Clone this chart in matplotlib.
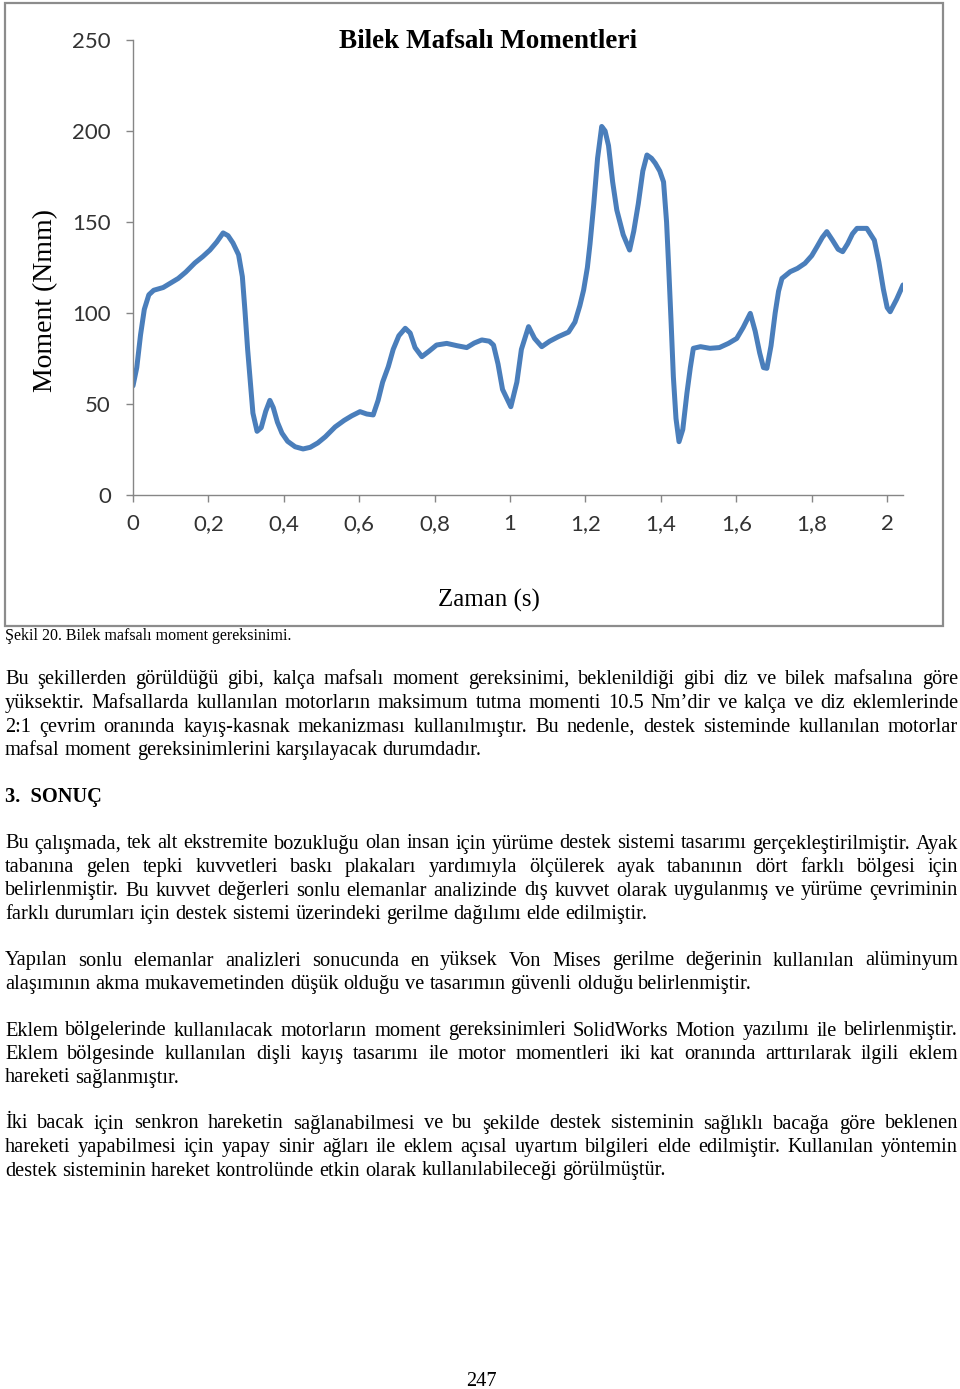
import matplotlib
matplotlib.use('Agg')
import matplotlib.pyplot as plt
from matplotlib.patches import Rectangle

W, H = 960, 1389

# wrist joint moment
time_s = [0.000, 0.010, 0.020, 0.030, 0.042, 0.055, 0.080, 0.100, 0.120, 0.140,
          0.164, 0.185, 0.204, 0.222, 0.239, 0.252, 0.265, 0.280, 0.290, 0.297,
          0.304, 0.310, 0.318, 0.329, 0.340, 0.352, 0.363, 0.372, 0.383, 0.395,
          0.410, 0.430, 0.451, 0.470, 0.490, 0.510, 0.536, 0.560, 0.580, 0.602,
          0.620, 0.637, 0.650, 0.662, 0.677, 0.690, 0.705, 0.722, 0.735, 0.748,
          0.766, 0.785, 0.805, 0.832, 0.860, 0.885, 0.905, 0.925, 0.945, 0.956,
          0.968, 0.980, 1.002, 1.018, 1.030, 1.049, 1.065, 1.084, 1.105, 1.128,
          1.155, 1.172, 1.185, 1.195, 1.205, 1.212, 1.222, 1.232, 1.243, 1.252,
          1.261, 1.272, 1.283, 1.300, 1.317, 1.328, 1.340, 1.352, 1.363, 1.375,
          1.385, 1.397, 1.407, 1.415, 1.420, 1.427, 1.433, 1.440, 1.448, 1.458,
          1.469, 1.478, 1.486, 1.505, 1.530, 1.555, 1.579, 1.601, 1.618, 1.637,
          1.650, 1.662, 1.672, 1.681, 1.692, 1.703, 1.712, 1.721, 1.743, 1.762,
          1.782, 1.800, 1.814, 1.828, 1.840, 1.855, 1.870, 1.882, 1.895, 1.908,
          1.920, 1.946, 1.966, 1.978, 1.990, 2.000, 2.008, 2.025, 2.042]
moment_nmm = [60, 70, 88, 102, 110, 112.5, 114, 116.5, 119, 122.5,
              127.5, 131, 134.6, 139, 144, 142.5, 138.5, 132, 120, 101,
              80, 65, 45, 35, 37, 46, 52, 48, 40, 34,
              29.5, 26.5, 25.3, 26.2, 28.6, 32, 37.4, 41, 43.5, 45.8,
              44.5, 44, 52, 62, 70.5, 80, 87.5, 91.6, 89, 81,
              76, 79, 82.4, 83.3, 82, 81, 83.5, 85.2, 84.5, 82.4,
              72, 58, 48.5, 62, 80, 92.5, 86, 81.5, 84.5, 87,
              89.5, 95, 104, 112.6, 125, 138, 160, 185, 202.5, 200,
              192, 172, 156.6, 143, 134.6, 145, 160, 178, 186.8, 185,
              182.3, 178, 172, 150, 128, 95, 65, 42, 29.3, 36,
              56, 70, 80.6, 81.5, 80.6, 81, 83.3, 86, 92, 99.8,
              90, 78, 70, 69.6, 82, 100, 112, 119, 122.7, 124.5,
              127.3, 131.5, 136.4, 141.5, 144.7, 140, 135, 133.7, 138, 143.5,
              146.5, 146.5, 140, 128, 113, 103, 100.7, 107.5, 115.4]

x_ticks = [0, 0.2, 0.4, 0.6, 0.8, 1.0, 1.2, 1.4, 1.6, 1.8, 2.0]
x_tick_labels = ['0', '0,2', '0,4', '0,6', '0,8', '1', '1,2', '1,4', '1,6', '1,8', '2']
y_ticks = [0, 50, 100, 150, 200, 250]

title = 'Bilek Mafsalı Momentleri'
x_label = 'Zaman (s)'
y_label = 'Moment (Nmm)'
caption = 'Şekil 20. Bilek mafsalı moment gereksinimi.'

para1 = ['Bu şekillerden görüldüğü gibi, kalça mafsalı moment gereksinimi, beklenildiği gibi diz ve bilek mafsalına göre',
         'yüksektir. Mafsallarda kullanılan motorların maksimum tutma momenti 10.5 Nm’dir ve kalça ve diz eklemlerinde',
         '2:1 çevrim oranında kayış-kasnak mekanizması kullanılmıştır. Bu nedenle, destek sisteminde kullanılan motorlar',
         'mafsal moment gereksinimlerini karşılayacak durumdadır.']
heading = '3.  SONUÇ'
para2 = ['Bu çalışmada, tek alt ekstremite bozukluğu olan insan için yürüme destek sistemi tasarımı gerçekleştirilmiştir. Ayak',
         'tabanına gelen tepki kuvvetleri baskı plakaları yardımıyla ölçülerek ayak tabanının dört farklı bölgesi için',
         'belirlenmiştir. Bu kuvvet değerleri sonlu elemanlar analizinde dış kuvvet olarak uygulanmış ve yürüme çevriminin',
         'farklı durumları için destek sistemi üzerindeki gerilme dağılımı elde edilmiştir.']
para3 = ['Yapılan sonlu elemanlar analizleri sonucunda en yüksek Von Mises gerilme değerinin kullanılan alüminyum',
         'alaşımının akma mukavemetinden düşük olduğu ve tasarımın güvenli olduğu belirlenmiştir.']
para4 = ['Eklem bölgelerinde kullanılacak motorların moment gereksinimleri SolidWorks Motion yazılımı ile belirlenmiştir.',
         'Eklem bölgesinde kullanılan dişli kayış tasarımı ile motor momentleri iki kat oranında arttırılarak ilgili eklem',
         'hareketi sağlanmıştır.']
para5 = ['İki bacak için senkron hareketin sağlanabilmesi ve bu şekilde destek sisteminin sağlıklı bacağa göre beklenen',
         'hareketi yapabilmesi için yapay sinir ağları ile eklem açısal uyartım bilgileri elde edilmiştir. Kullanılan yöntemin',
         'destek sisteminin hareket kontrolünde etkin olarak kullanılabileceği görülmüştür.']
page_no = '247'

serif = 'Liberation Serif'

fig = plt.figure(figsize=(W / 100, H / 100), dpi=100)
fig.patch.set_facecolor('white')


def fx(px):
    return px / W


def fy(py):
    return 1 - py / H


# chart frame
fig.patches.append(Rectangle((fx(5), fy(626)), fx(938), 623 / H, transform=fig.transFigure,
                             fill=False, edgecolor='#8c8c8c', lw=1.6))

ax = fig.add_axes([fx(133), fy(495), fx(903) - fx(133), 455 / H])
ax.plot(time_s, moment_nmm, color='#4a7ebb', lw=3.6, solid_joinstyle='round',
        solid_capstyle='round')
ax.set_xlim(0, 2.042)
ax.set_ylim(0, 250)
ax.set_xticks(x_ticks)
ax.set_xticklabels(x_tick_labels)
ax.set_yticks(y_ticks)
for s in ['top', 'right']:
    ax.spines[s].set_visible(False)
for s in ['left', 'bottom']:
    ax.spines[s].set_color('#868686')
    ax.spines[s].set_linewidth(1.0)
ax.tick_params(axis='both', direction='out', length=5, width=1.0, color='#868686',
               labelcolor='#333333', labelsize=16)
ax.tick_params(axis='y', pad=11)
ax.tick_params(axis='x', pad=9)
for lab in ax.get_xticklabels() + ax.get_yticklabels():
    lab.set_family('Lato')

fig.text(fx(488), fy(42), title, ha='center', va='center', family=serif,
         fontweight='bold', fontsize=19.5)
fig.text(fx(46), fy(300), y_label, ha='center', va='center', rotation=90,
         family=serif, fontsize=20)
fig.text(fx(489), fy(600), x_label, ha='center', va='center', family=serif, fontsize=18)
fig.text(fx(5), fy(636), caption, ha='left', va='center', family=serif, fontsize=11.5)

renderer = fig.canvas.get_renderer()
body_size = 14.7
probe = fig.text(0, 0, 'a a', family=serif, fontsize=body_size)
probe2 = fig.text(0, 0, 'aa', family=serif, fontsize=body_size)
space_w = probe.get_window_extent(renderer).width - probe2.get_window_extent(renderer).width
probe.remove()
probe2.remove()


def put_line(line, py, justify, x0=5, x1=958):
    words = line.split(' ')
    texts = [fig.text(0, fy(py), w, ha='left', va='center', family=serif,
                      fontsize=body_size) for w in words]
    widths = [t.get_window_extent(renderer).width for t in texts]
    gap = space_w
    if justify and len(words) > 1:
        gap = (x1 - x0 - sum(widths)) / (len(words) - 1)
    x = x0
    for t, w in zip(texts, widths):
        t.set_x(fx(x))
        x += w + gap


def put_para(lines, top):
    for i, line in enumerate(lines):
        put_line(line, top + i * 23.5, i < len(lines) - 1)


put_para(para1, 680)
fig.text(fx(5), fy(797), heading, ha='left', va='center', family=serif,
         fontsize=body_size, fontweight='bold')
put_para(para2, 844)
put_para(para3, 961)
put_para(para4, 1031)
put_para(para5, 1124)
fig.text(fx(481), fy(1381), page_no, ha='center', va='center', family=serif,
         fontsize=body_size)

fig.savefig('out.png', dpi=100)
